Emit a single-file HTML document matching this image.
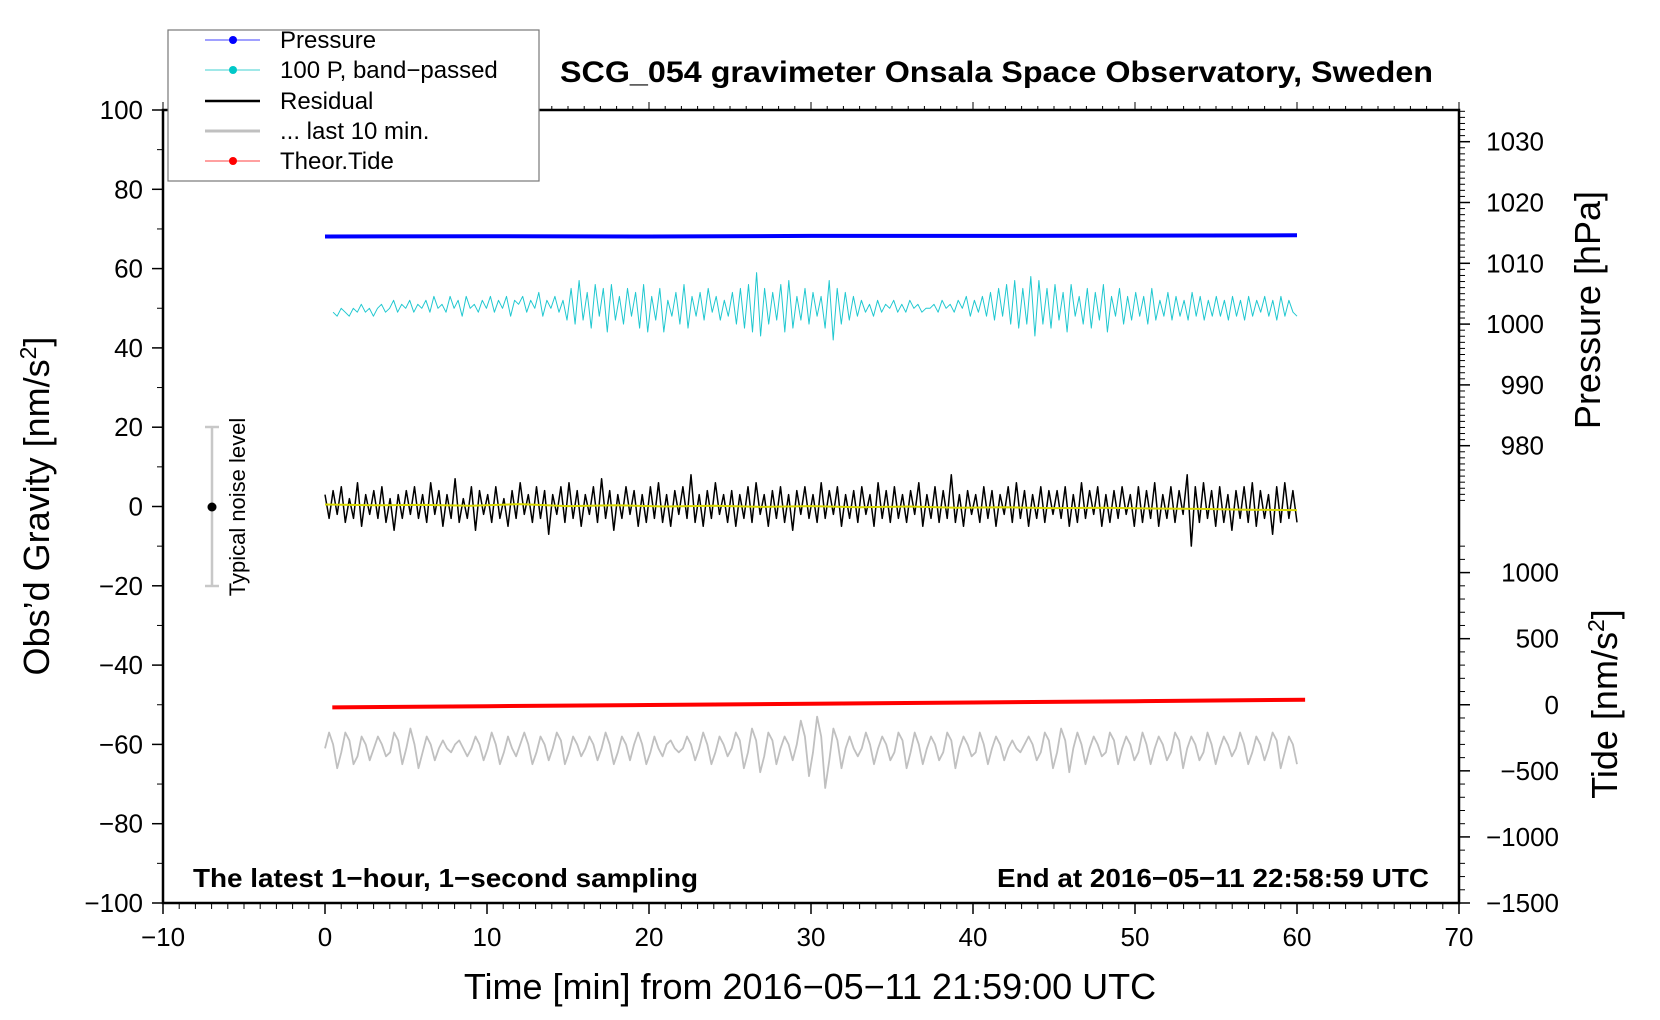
<!DOCTYPE html>
<html><head><meta charset="utf-8"><style>
html,body{margin:0;padding:0;background:#fff;}
svg{display:block;font-family:"Liberation Sans",sans-serif;}
</style></head><body>
<svg id="chart" width="1660" height="1020" viewBox="0 0 1660 1020" xmlns="http://www.w3.org/2000/svg">
<rect width="1660" height="1020" fill="#fff"/>
<g id="marks"></g>
<g id="axes"></g>
<text x="560" y="82" font-size="30" font-weight="bold" textLength="873" lengthAdjust="spacingAndGlyphs">SCG_054 gravimeter Onsala Space Observatory, Sweden</text>
<text x="193" y="887" font-size="26" font-weight="bold" textLength="505" lengthAdjust="spacingAndGlyphs">The latest 1−hour, 1−second sampling</text>
<text x="1429" y="887" font-size="26" font-weight="bold" text-anchor="end" textLength="432" lengthAdjust="spacingAndGlyphs">End at 2016−05−11 22:58:59 UTC</text>
<text x="810" y="999" font-size="36" text-anchor="middle">Time [min] from 2016−05−11 21:59:00 UTC</text>
<text transform="translate(49,506) rotate(-90)" font-size="36" text-anchor="middle">Obs’d Gravity [nm/s<tspan font-size="23" dy="-13">2</tspan><tspan dy="13">]</tspan></text>
<text transform="translate(1600,310) rotate(-90)" font-size="36" text-anchor="middle">Pressure [hPa]</text>
<text transform="translate(1617,704) rotate(-90)" font-size="36" text-anchor="middle">Tide [nm/s<tspan font-size="23" dy="-13">2</tspan><tspan dy="13">]</tspan></text>
<g>
<line x1="212" y1="427" x2="212" y2="586" stroke="#c8c8c8" stroke-width="2.5"/>
<line x1="205" y1="427" x2="219" y2="427" stroke="#c8c8c8" stroke-width="2.5"/>
<line x1="205" y1="586" x2="219" y2="586" stroke="#c8c8c8" stroke-width="2.5"/>
<circle cx="212" cy="507" r="4.5" fill="#000"/>
<text transform="translate(245,507) rotate(-90)" font-size="22" text-anchor="middle">Typical noise level</text>
</g>
<g>
<rect x="168" y="30" width="371" height="151" fill="#fff" stroke="#777" stroke-width="1.2"/>
<g><line x1="205" y1="40" x2="260" y2="40" stroke="#4040ff" stroke-width="1"/><circle cx="233" cy="40" r="4" fill="#0000ff"/><text x="280" y="48" font-size="24">Pressure</text></g>
<g><line x1="205" y1="70" x2="260" y2="70" stroke="#40d0d0" stroke-width="1"/><circle cx="233" cy="70" r="4" fill="#00c8c8"/><text x="280" y="78" font-size="24">100 P, band−passed</text></g>
<g><line x1="205" y1="101" x2="260" y2="101" stroke="#000" stroke-width="2.5"/><text x="280" y="109" font-size="24">Residual</text></g>
<g><line x1="205" y1="131" x2="260" y2="131" stroke="#c0c0c0" stroke-width="3"/><text x="280" y="139" font-size="24">... last 10 min.</text></g>
<g><line x1="205" y1="161" x2="260" y2="161" stroke="#ff4040" stroke-width="1"/><circle cx="233" cy="161" r="4" fill="#ff0000"/><text x="280" y="169" font-size="24">Theor.Tide</text></g>
</g>
</svg>
<script>
const xTicks=[-10,0,10,20,30,40,50,60,70];
const yTicks=[100,80,60,40,20,0,-20,-40,-60,-80,-100];
const pTicks=[1030,1020,1010,1000,990,980];
const tideTicks=[1000,500,0,-500,-1000,-1500];
const pressureTimes=[0,10,20,30,40,50,60];
const pressureVals=[1014.4,1014.45,1014.4,1014.5,1014.5,1014.55,1014.6];
const tideTimes=[0.45,10,20,30,40,50,60.5];
const tideVals=[-20,-11,-2,8,17,27,38];
const yellowVals=[0.5,0.3,0.4,0.2,0.6,0.1,0.3,0,0.2,-0.1,0.1,-0.2,0,-0.3,-0.2,-0.4,-0.3,-0.5,-0.6,-0.8,-0.9];
const residualVals=[3,-3,4,-2,5,-4,2,-3,6,-5,3,-2,4,-3,5,-4,2,-6,3,-3,
4,-2,5,-3,3,-4,6,-2,4,-5,3,-3,7,-4,2,-3,5,-6,4,-2,
3,-4,5,-3,2,-5,4,-3,6,-2,3,-4,5,-3,4,-7,3,-2,5,-4,
6,-3,4,-5,3,-2,5,-4,7,-3,4,-6,3,-3,5,-2,4,-5,3,-4,
5,-3,6,-4,3,-5,4,-2,5,-3,8,-4,3,-5,4,-3,6,-2,3,-4,
4,-5,3,-3,5,-4,6,-2,3,-5,4,-3,5,-4,3,-6,4,-2,5,-3,
3,-4,6,-3,4,-2,5,-5,3,-3,4,-4,5,-2,3,-5,6,-3,4,-4,
5,-3,3,-4,4,-2,6,-5,3,-3,5,-4,4,-3,8,-4,3,-5,4,-2,
3,-4,5,-3,4,-5,3,-2,5,-4,6,-3,4,-5,3,-3,5,-4,4,-2,
4,-3,5,-5,3,-4,6,-3,4,-2,5,-5,3,-4,4,-3,5,-2,3,-5,
5,-4,4,-3,6,-5,3,-3,5,-4,4,-2,8,-10,5,-4,6,-3,4,-5,
5,-4,3,-6,4,-3,5,-4,6,-5,4,-3,3,-7,5,-4,6,-3,4,-4];
const grayVals=[-61,-57,-60,-66,-62,-57,-59,-65,-63,-58,-60,-64,-61,-58,-60,-63,-62,-57,-59,-65,
-61,-56,-60,-66,-62,-58,-60,-64,-61,-59,-61,-62,-60,-59,-61,-63,-61,-58,-60,-64,
-61,-57,-60,-65,-62,-58,-61,-63,-60,-57,-60,-65,-62,-58,-60,-64,-61,-57,-59,-65,
-62,-58,-60,-63,-61,-58,-60,-64,-61,-57,-60,-65,-62,-58,-60,-64,-60,-57,-60,-65,
-62,-58,-61,-63,-60,-59,-61,-62,-61,-58,-60,-64,-61,-57,-60,-65,-62,-58,-60,-63,
-61,-57,-59,-66,-62,-56,-59,-67,-63,-57,-59,-65,-61,-58,-60,-64,-60,-54,-58,-68,
-62,-53,-58,-71,-64,-56,-59,-66,-61,-58,-61,-63,-61,-57,-60,-65,-61,-58,-60,-64,
-62,-57,-59,-66,-62,-57,-60,-65,-61,-58,-60,-64,-62,-57,-59,-66,-61,-58,-60,-63,
-62,-57,-60,-65,-61,-58,-60,-64,-61,-59,-61,-62,-60,-58,-60,-64,-62,-57,-59,-66,
-62,-56,-59,-67,-61,-57,-60,-65,-61,-58,-60,-63,-62,-57,-59,-65,-61,-58,-60,-64,
-62,-57,-60,-65,-61,-58,-60,-64,-62,-57,-59,-66,-61,-58,-60,-64,-62,-57,-60,-65,
-61,-58,-60,-63,-61,-57,-60,-65,-62,-58,-60,-64,-61,-57,-59,-66,-62,-58,-60,-65];
const cyanVals=[49,48,50,49,48,50,49,51,49,50,48,50,51,49,50,52,49,51,50,52,
49,51,50,52,49,53,50,51,49,53,50,52,48,53,50,51,49,52,50,53,
49,52,50,53,48,52,51,53,49,52,50,54,48,52,50,53,49,52,47,55,
46,57,47,54,45,56,48,55,44,56,47,53,46,55,48,54,45,56,44,53,
47,55,44,52,48,54,46,56,45,53,48,54,47,55,49,53,47,52,48,54,
46,55,45,56,44,59,43,55,46,54,47,56,44,57,45,53,47,55,46,54,
48,53,45,57,42,55,46,54,47,53,48,52,49,51,48,52,49,51,50,52,
49,51,49,52,50,51,49,50,50,51,49,52,50,51,49,52,50,53,48,52,
49,53,48,54,47,55,48,56,46,57,45,55,46,58,43,57,46,55,45,56,
47,54,44,56,48,53,46,55,45,54,47,56,44,53,48,55,46,53,47,54,
48,53,46,55,47,52,48,54,47,53,48,52,47,54,48,53,47,52,48,53,
48,52,47,53,48,52,47,53,48,52,49,53,48,52,47,53,48,52,49,48];

const X0=163,X1=1459,Y0=110,Y1=903;
const xs=v=>X0+(v+10)/80*(X1-X0);
const ys=v=>Y1-(v+100)/200*(Y1-Y0);
const ps=p=>445.7-(p-980)*6.08;
const ts=t=>Y1-(t+1500)*0.13216;
const NS='http://www.w3.org/2000/svg';
const marks=document.getElementById('marks'),axes=document.getElementById('axes');
function mk(tag,attrs,parent){const e=document.createElementNS(NS,tag);for(const k in attrs)e.setAttribute(k,attrs[k]);parent.appendChild(e);return e;}
function poly(pts,stroke,w,name){
  const e=mk('polyline',{points:pts.map(p=>p[0].toFixed(1)+','+p[1].toFixed(1)).join(' '),fill:'none',stroke:stroke,'stroke-width':w,'stroke-linejoin':'round'},marks);
  
  
}
poly(cyanVals.map((v,i)=>[xs(0.5+i*59.5/(cyanVals.length-1)),ys(v)]),'#20c8d0',1,'bandpassed-pressure-line');
poly(pressureVals.map((v,i)=>[xs(pressureTimes[i]),ps(v)]),'#0000ff',4,'pressure-line');
poly(grayVals.map((v,i)=>[xs(i*60/(grayVals.length-1)),ys(v)]),'#c0c0c0',1.8,'last-10-min-line');
poly(residualVals.map((v,i)=>[xs(i*60/(residualVals.length-1)),ys(v)]),'#000',1.5,'residual-line');
poly(yellowVals.map((v,i)=>[xs(i*60/(yellowVals.length-1)),ys(v)]),'#d8d800',2,'residual-smoothed-line');
poly(tideVals.map((v,i)=>[xs(tideTimes[i]),ts(v)]),'#ff0000',4,'theoretical-tide-line');

const fr=mk('rect',{x:X0,y:Y0,width:X1-X0,height:Y1-Y0,fill:'none',stroke:'#000','stroke-width':2.5},axes);


function ln(x1,y1,x2,y2,w){mk('line',{x1,y1,x2,y2,stroke:'#000','stroke-width':w||1.2},axes);}
function tx(x,y,s,anchor,name){const e=mk('text',{x,y,'font-size':26,'text-anchor':anchor},axes);e.textContent=s;
  
  }
for(let m=-10;m<=70;m++){const x=xs(m);const maj=m%10===0;ln(x,Y1,x,Y1+(maj?11:6),maj?1.5:1);ln(x,Y0,x,Y0-(maj?8:4),1);}
xTicks.forEach(v=>tx(xs(v),Y1+43,String(v).replace('-','−'),'middle','x-tick-label'));
for(let v=-100;v<=100;v+=10){const y=ys(v);const maj=v%20===0;ln(X0,y,X0-(maj?11:6),y,maj?1.5:1);}
yTicks.forEach(v=>tx(X0-20,ys(v)+9,String(v).replace('-','−'),'end','y-tick-label'));
for(let p=971;p<=1035;p++){const y=ps(p);if(y<Y0)continue;const maj=p%10===0;ln(X1,y,X1+(maj?11:6),y,maj?1.5:1);}
pTicks.forEach(v=>tx(X1+85,ps(v)+9,String(v),'end','pressure-tick-label'));
for(let t=-1500;t<=1200;t+=100){const y=ts(t);const maj=t%500===0;ln(X1,y,X1+(maj?11:6),y,maj?1.5:1);}
tideTicks.forEach(v=>tx(X1+100,ts(v)+9,String(v).replace('-','−'),'end','tide-tick-label'));
</script>
</body></html>
